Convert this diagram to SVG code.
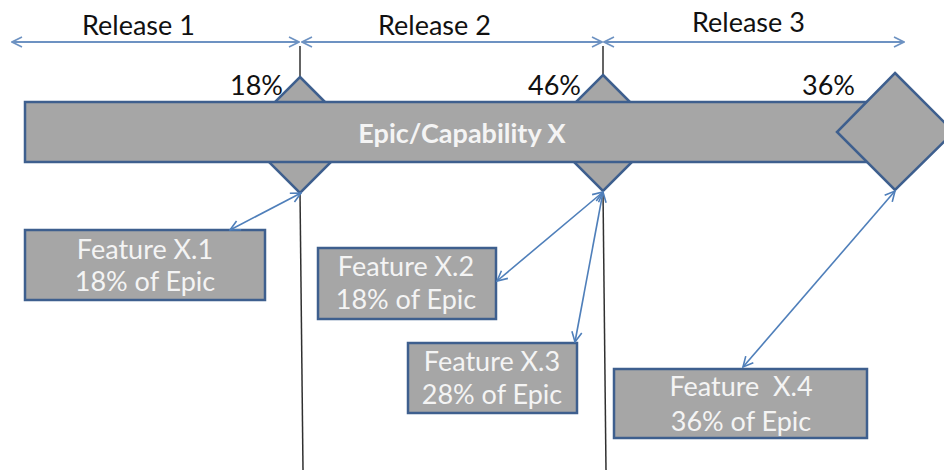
<svg xmlns="http://www.w3.org/2000/svg" width="944" height="470" viewBox="0 0 944 470">
  <style>
    .label { font-family: Lato, "Liberation Sans", sans-serif; font-size: 27px; fill: #111111; }
    .box { fill: #a6a6a6; stroke: #3e5f8e; stroke-width: 2.5; }
    .boxtext { font-family: Lato, "Liberation Sans", sans-serif; font-size: 27px; fill: #f4f4f4; text-anchor: middle; }
    .epictext { font-family: Lato, "Liberation Sans", sans-serif; font-size: 27px; font-weight: bold; fill: #f4f4f4; text-anchor: middle; }
    .link { fill: none; stroke: #4f7fba; stroke-width: 1.6; marker-start: url(#head); marker-end: url(#head); }
    .span { fill: none; stroke: #6d92c2; stroke-width: 1.8; marker-start: url(#head); marker-end: url(#head); }
    .release { fill: none; stroke: #303030; stroke-width: 1.5; }
  </style>
  <defs>
    <marker id="head" viewBox="0 0 12 12" refX="11" refY="6" markerWidth="12" markerHeight="12" markerUnits="userSpaceOnUse" orient="auto-start-reverse">
      <path d="M1,1 L11,6 L1,11" fill="none" stroke="context-stroke" stroke-width="1.6"/>
    </marker>
  </defs>

  <!-- release spans along the top -->
  <g id="release-1">
    <text class="label" x="82" y="35">Release 1</text>
  </g>
  <g id="release-2">
    <text class="label" x="378" y="35">Release 2</text>
  </g>
  <g id="release-3">
    <text class="label" x="692" y="32">Release 3</text>
  </g>

  <!-- release boundaries -->
  <g id="boundaries">
    <line class="release" x1="300" y1="46" x2="300" y2="78"/>
    <line class="release" x1="300" y1="192" x2="303" y2="470"/>
    <line class="release" x1="603" y1="46" x2="603" y2="76"/>
    <line class="release" x1="603" y1="191" x2="606" y2="470"/>
  </g>

  <!-- milestone diamonds behind the epic bar -->
  <g id="milestone-1">
    <polygon class="box" points="300,77 358,135 300,193 242,135"/>
    <text class="label" x="283" y="95" text-anchor="end">18%</text>
  </g>
  <g id="milestone-2">
    <polygon class="box" points="603,75 661,133 603,191 545,133"/>
    <text class="label" x="581" y="95" text-anchor="end">46%</text>
  </g>

  <!-- epic bar -->
  <g id="epic">
    <rect class="box" x="25" y="102" width="845" height="60"/>
    <text class="epictext" x="462" y="143">Epic/Capability X</text>
  </g>

  <!-- final milestone sits on top of the bar -->
  <g id="milestone-3">
    <polygon class="box" points="895,73 954,132 895,190 837,132"/>
    <text class="label" x="855" y="95" text-anchor="end">36%</text>
  </g>

  <!-- feature boxes -->
  <g id="feature-1">
    <rect class="box" x="25" y="230" width="240" height="70"/>
    <text class="boxtext" x="145" y="259">Feature X.1</text>
    <text class="boxtext" x="145" y="291">18% of Epic</text>
  </g>
  <g id="feature-2">
    <rect class="box" x="318" y="248" width="178" height="71"/>
    <text class="boxtext" x="406" y="276">Feature X.2</text>
    <text class="boxtext" x="406" y="309">18% of Epic</text>
  </g>
  <g id="feature-3">
    <rect class="box" x="408" y="343" width="169" height="70"/>
    <text class="boxtext" x="492" y="371">Feature X.3</text>
    <text class="boxtext" x="492" y="404">28% of Epic</text>
  </g>
  <g id="feature-4">
    <rect class="box" x="614" y="369" width="253" height="69"/>
    <text class="boxtext" x="741" y="396" xml:space="preserve">Feature  X.4</text>
    <text class="boxtext" x="741" y="431">36% of Epic</text>
  </g>

  <!-- connectors -->
  <g id="connectors">
    <line class="span" x1="12" y1="42" x2="299" y2="42"/>
    <line class="span" x1="302" y1="42" x2="602" y2="42"/>
    <line class="span" x1="604" y1="42" x2="904" y2="42"/>
    <line class="link" x1="230" y1="230" x2="301" y2="193"/>
    <line class="link" x1="497" y1="281" x2="603" y2="192"/>
    <line class="link" x1="575" y1="342" x2="603" y2="192"/>
    <line class="link" x1="743" y1="367" x2="895" y2="191"/>
  </g>
</svg>
